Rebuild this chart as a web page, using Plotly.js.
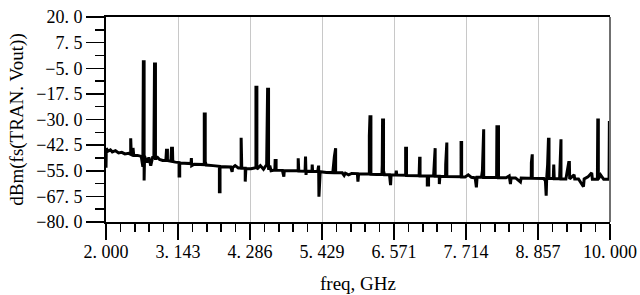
<!DOCTYPE html>
<html>
<head>
<meta charset="utf-8">
<script src="https://cdn.plot.ly/plotly-3.0.1.min.js"></script>
<style>
html,body{margin:0;padding:0;background:#fff;}
#chart{width:640px;height:295px;}
</style>
</head>
<body>
<div id="chart"></div>
<script>
// Spectrum data: frequency (GHz) and level (dBm)
const freqGHz = [
2.000,2.005,2.03,2.07,2.10,2.15,2.20,2.25,2.30,2.36,
2.392,2.392,2.400,2.400,2.429,2.429,2.435,2.44,2.50,2.56,
2.585,2.585,2.590,2.593,2.605,2.605,2.612,2.612,
2.65,2.68,2.71,2.74,
2.76,2.76,2.77,2.785,2.785,2.80,2.82,2.85,2.90,
2.95,2.96,2.975,2.975,3.03,3.04,3.055,3.06,3.10,3.14,
3.16,3.16,3.17,3.17,3.25,3.30,3.35,3.355,3.36,3.40,3.50,
3.56,3.56,3.575,3.575,3.59,3.70,3.78,
3.80,3.80,3.81,3.81,3.90,3.98,4.002,4.01,4.05,4.10,
4.145,4.145,4.155,4.155,4.21,4.21,4.22,4.22,4.30,
4.38,4.38,4.395,4.395,4.45,4.50,
4.55,4.565,4.58,4.58,4.60,4.62,4.68,4.685,4.70,4.70,4.80,4.823,4.83,4.95,5.05,5.051,5.06,
5.16,5.167,5.175,5.18,5.27,5.273,5.28,5.36,5.375,5.38,5.39,5.40,
5.50,5.60,5.625,5.634,5.645,5.645,5.75,5.78,5.80,5.85,5.90,5.99,5.999,6.01,6.10,
6.18,6.18,6.19,6.205,6.205,6.30,6.38,6.385,6.39,6.405,6.405,6.42,
6.50,6.517,6.525,6.60,6.608,6.615,6.70,6.756,6.756,6.77,6.77,
6.85,6.90,6.97,6.978,6.985,6.985,7.05,7.10,7.10,7.12,7.12,7.20,7.21,7.216,7.225,7.225,7.29,7.291,7.30,
7.35,7.39,7.392,7.402,7.41,7.41,7.50,7.60,7.636,7.636,7.645,7.645,
7.70,7.75,7.80,7.86,7.879,7.89,7.96,7.975,7.985,7.995,7.995,
8.10,8.20,8.205,8.23,8.23,8.35,8.40,8.42,8.43,8.50,8.578,8.59,
8.70,8.75,8.752,8.758,8.766,8.766,8.85,8.95,8.975,8.987,8.995,9.01,9.023,9.032,9.032,
9.10,9.107,9.115,9.20,9.205,9.213,9.222,9.222,9.30,9.345,9.355,9.36,9.43,9.44,9.50,
9.579,9.59,9.65,9.70,9.71,9.72,9.80,9.806,9.815,9.815,9.85,9.90,9.985,9.99,10.0
];
const dBm = [
-53.5,-44.0,-45.5,-44.8,-45.8,-45.2,-46.3,-46.0,-46.8,-46.5,
-47.0,-39.2,-39.2,-46.0,-46.0,-43.9,-43.9,-47.5,-47.5,-48.0,
-53.0,-10.7,-10.7,-1.8,-1.8,-59.8,-59.8,-48.0,
-51.0,-48.5,-52.5,-48.5,
-48.5,-5.9,-2.9,-2.9,-49.0,-49.0,-48.5,-49.5,-50.0,
-50.0,-45.0,-45.0,-50.0,-50.3,-44.0,-44.0,-50.5,-50.8,-51.0,
-51.0,-57.6,-57.6,-51.2,-51.3,-51.5,-51.5,-48.8,-52.5,-51.8,-52.0,
-52.0,-27.3,-27.3,-50.5,-52.2,-52.5,-52.8,
-52.8,-65.2,-65.2,-53.0,-53.2,-53.2,-55.5,-53.4,-52.5,-53.6,
-53.6,-38.9,-38.9,-53.8,-53.8,-60.3,-60.3,-54.0,-54.0,
-53.5,-14.3,-14.3,-54.2,-52.5,-54.3,
-52.0,-15.3,-15.3,-54.5,-52.5,-55.0,-54.6,-50.0,-50.0,-54.7,-54.8,-57.9,-54.9,-55.0,-55.0,-48.9,-55.1,
-55.2,-48.1,-57.0,-55.2,-55.3,-52.0,-55.3,-55.4,-52.5,-67.7,-60.0,-55.5,
-55.8,-55.9,-48.0,-44.0,-44.0,-56.0,-56.0,-57.3,-56.2,-57.0,-56.3,-56.4,-60.3,-56.5,-56.5,
-56.6,-38.0,-28.6,-28.6,-56.7,-56.8,-56.8,-52.0,-30.2,-30.2,-55.0,-57.0,
-57.0,-62.0,-57.0,-57.1,-55.0,-57.1,-57.2,-57.2,-44.0,-44.0,-57.3,
-57.3,-57.6,-57.4,-48.9,-48.9,-57.5,-57.5,-57.5,-62.0,-62.0,-57.6,-57.6,-52.0,-44.0,-44.0,-57.7,-57.7,-61.5,-57.7,
-57.8,-57.8,-52.0,-41.2,-41.2,-57.8,-57.8,-57.9,-57.9,-41.2,-41.2,-58.0,
-58.0,-57.0,-58.2,-58.5,-63.1,-58.2,-58.2,-55.0,-34.8,-34.8,-58.3,
-58.3,-58.3,-33.5,-33.5,-58.4,-58.4,-57.5,-61.5,-58.5,-58.5,-60.5,-58.5,
-58.6,-58.6,-51.0,-47.0,-47.0,-58.7,-58.7,-58.8,-60.0,-67.2,-58.8,-52.0,-39.6,-39.6,-58.8,
-58.8,-52.0,-58.9,-58.9,-50.0,-39.6,-39.6,-59.0,-59.0,-51.0,-51.0,-59.0,-57.0,-59.0,-59.0,
-62.8,-59.0,-58.0,-56.0,-56.0,-59.1,-59.1,-30.2,-30.2,-59.1,-57.0,-59.2,-59.2,-31.5,-31.5
];

const xTickVals = [2.000, 3.142857, 4.285714, 5.428571, 6.571429, 7.714286, 8.857143, 10.000];
const xTickText = ["2. 000","3. 143","4. 286","5. 429","6. 571","7. 714","8. 857","10. 000"];
const yTickVals = [20, 7.5, -5, -17.5, -30, -42.5, -55, -67.5, -80];
const yTickText = ["20. 0","7. 5","\u22125. 0","\u221217. 5","\u221230. 0","\u221242. 5","\u221255. 0","\u221267. 5","\u221280. 0"];

const font = {family: '"Liberation Serif", "DejaVu Serif", serif', size: 18, color: '#000'};
const titleFont = {family: '"Liberation Serif", "DejaVu Serif", serif', size: 19, color: '#000'};

const trace = {
  x: freqGHz, y: dBm, type: 'scatter', mode: 'lines',
  line: {color: '#000', width: 3},
  hoverinfo: 'skip'
};

const layout = {
  width: 640, height: 295,
  margin: {l: 106, r: 30, t: 17, b: 73, pad: 0},
  paper_bgcolor: '#fff', plot_bgcolor: '#fff',
  font: font,
  showlegend: false,
  xaxis: {
    range: [2, 10], tickmode: 'array', tickvals: xTickVals, ticktext: xTickText,
    ticks: 'outside', ticklen: 16, tickwidth: 1.5, tickcolor: '#000',
    ticklabelstandoff: -4,
    showline: true, linecolor: '#000', linewidth: 2, mirror: true,
    showgrid: true, gridcolor: '#c8c8c8', gridwidth: 1,
    zeroline: false, tickfont: font,
    minor: {tickmode: 'linear', tick0: 2, dtick: 8/35, ticks: 'outside', ticklen: 8, tickwidth: 1.5, tickcolor: '#000', showgrid: false},
    title: {text: 'freq, GHz', font: titleFont, standoff: 16}
  },
  yaxis: {
    range: [-80, 20], tickmode: 'array', tickvals: yTickVals, ticktext: yTickText,
    ticks: 'outside', ticklen: 18, tickwidth: 1.5, tickcolor: '#000',
    showline: true, linecolor: '#000', linewidth: 2, mirror: false,
    showgrid: false, zeroline: false, tickfont: font,
    minor: {tickmode: 'linear', tick0: -80, dtick: 6.25, ticks: 'outside', ticklen: 9, tickwidth: 1.5, tickcolor: '#000', showgrid: false},
    title: {text: 'dBm(fs(TRAN. Vout))', font: titleFont, standoff: 8}
  },
  shapes: [{type: 'line', xref: 'paper', yref: 'paper', x0: 1, x1: 1, y0: 0, y1: 1,
            line: {color: '#707070', width: 2}}]
};

Plotly.newPlot('chart', [trace], layout, {staticPlot: true, displayModeBar: false});
</script>
</body>
</html>
